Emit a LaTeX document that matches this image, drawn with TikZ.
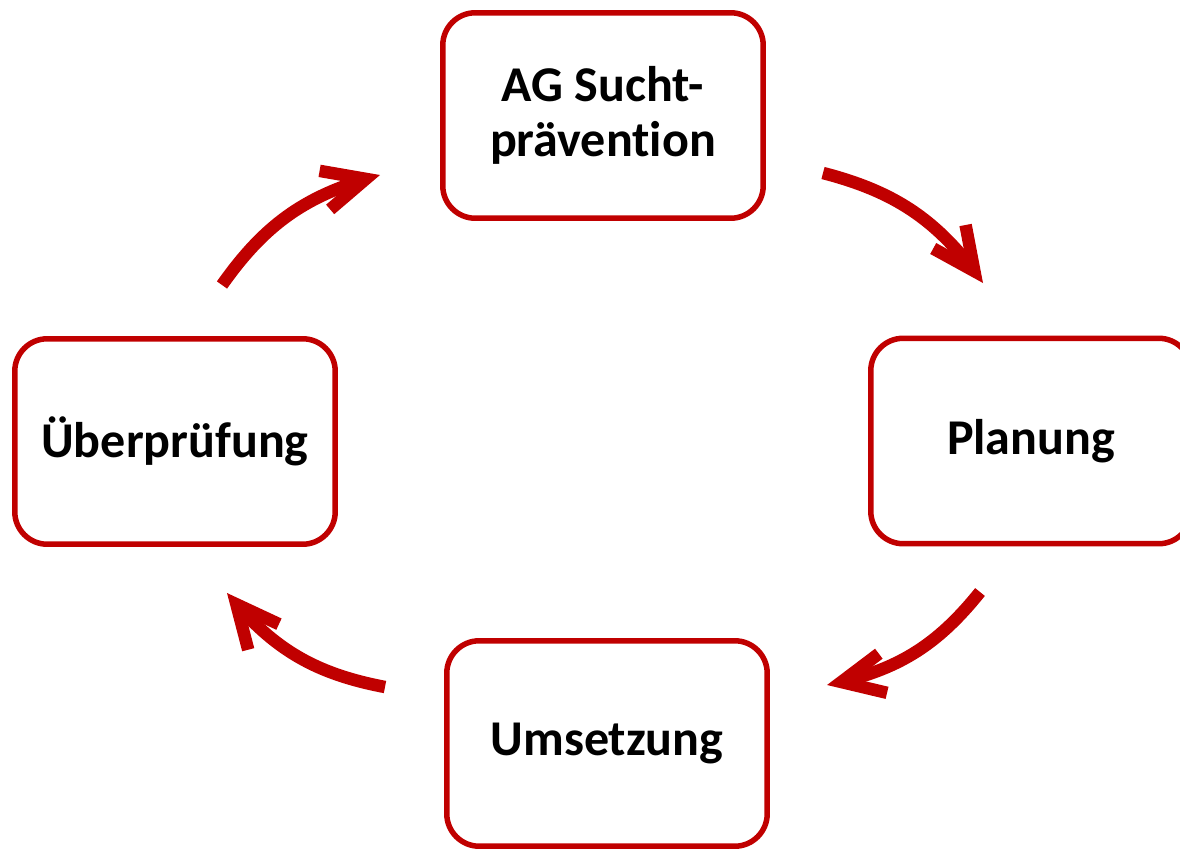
\documentclass[tikz,border=0pt]{standalone}
\usepackage{fontspec}
\setmainfont{Carlito}[Ligatures=NoCommon]
\usetikzlibrary{arrows.meta,bending,positioning,calc}
\definecolor{zyklusrot}{HTML}{C00000}
\tikzset{
  stufe/.style={draw=zyklusrot, line width=0.11cm, rounded corners=0.65cm,
    minimum width=6.41cm, minimum height=4.11cm, align=center,
    font=\fontsize{28.5pt}{31.5pt}\selectfont\bfseries},
  kreispfeil/.style={draw=zyklusrot, line width=0.25cm,
    -{Straight Barb[length=0.85cm, width=0.8cm, flex]}}
}

\begin{document}
\begin{tikzpicture}[x=0.02cm, y=-0.02cm, line join=round]
\useasboundingbox (0,0) rectangle (1180,849);
\clip (0,0) rectangle (1180,849);
\node[stufe] (ag)   at (603,115.5) {AG Sucht-\\prävention};
\node[stufe] (plan) at (1031,441)  {Planung};
\node[stufe] (ums)  at (607,743.5) {Umsetzung};
\node[stufe] (ueb)  at (175,441.5) {Überprüfung};
\coordinate (p1a) at (222,285);  % Ueberpruefung -> AG
\coordinate (p1b) at (380,175);
\coordinate (p2a) at (823,173);  % AG -> Planung
\coordinate (p2b) at (983,283);
\coordinate (p3a) at (980,592);  % Planung -> Umsetzung
\coordinate (p3b) at (827,685);
\coordinate (p4a) at (385,687);  % Umsetzung -> Ueberpruefung
\coordinate (p4b) at (227,593);
\draw[kreispfeil] (p1a) to[bend left=20] (p1b);
\draw[kreispfeil] (p2a) to[bend left=20] (p2b);
\draw[kreispfeil] (p3a) to[bend left=20] (p3b);
\draw[kreispfeil] (p4a) to[bend left=20] (p4b);
\end{tikzpicture}
\end{document}
